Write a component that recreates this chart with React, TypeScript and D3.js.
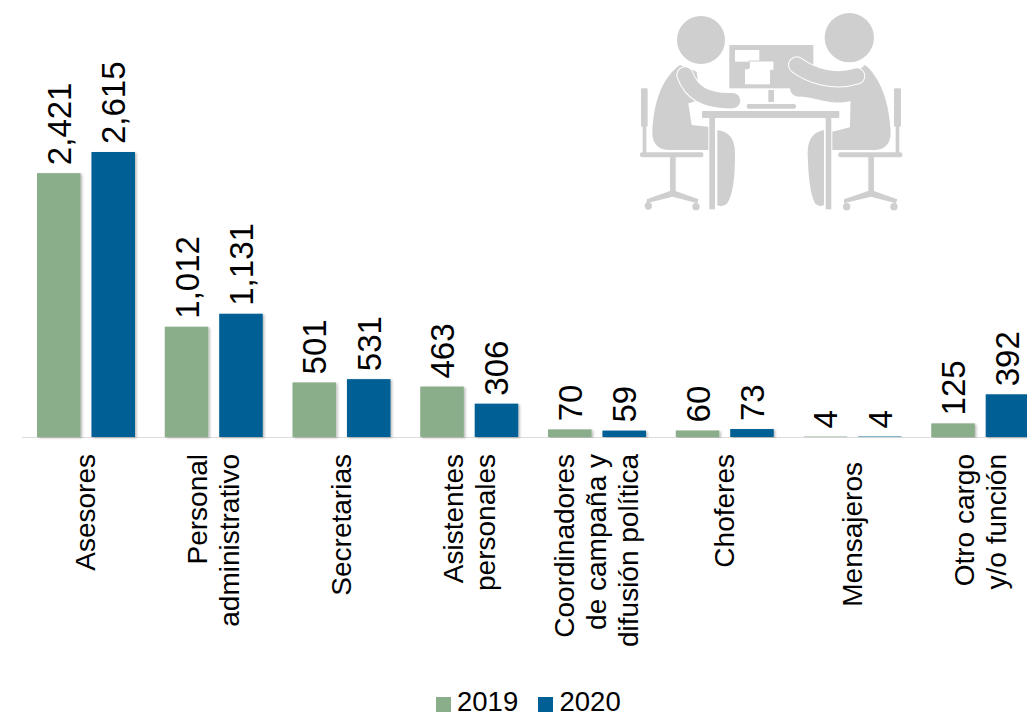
import React from "react";
import * as d3 from "d3";

const categories: string[][] = [
  ["Asesores"],
  ["Personal", "administrativo"],
  ["Secretarias"],
  ["Asistentes", "personales"],
  ["Coordinadores", "de campaña y", "difusión política"],
  ["Choferes"],
  ["Mensajeros"],
  ["Otro cargo", "y/o función"],
];
const values2019 = [2421, 1012, 501, 463, 70, 60, 4, 125];
const values2020 = [2615, 1131, 531, 306, 59, 73, 4, 392];
const seriesNames = ["2019", "2020"];
const colors = ["#8aad8a", "#005f95"];

const FONT = "'Liberation Sans', Arial, sans-serif";

function Icon() {
  const g = "#cfcfcf";
  return (
    <g transform="translate(620,0) scale(0.3333)" fill={g} filter="url(#soft)">
      <circle cx={243} cy={120} r={72} />
      <circle cx={688} cy={113} r={74} />
      {/* monitor */}
      <rect x={328} y={135} width={252} height={130} />
      <rect x={345} y={150} width={73} height={35} fill="#fff" />
      <rect x={388} y={183} width={74} height={28} fill="#fff" stroke={g} strokeWidth={3} />
      <rect x={375} y={208} width={75} height={45} fill="#fff" />
      <rect x={386} y={205} width={64} height={8} fill="#fff" />
      <rect x={445} y={270} width={17} height={36} />
      <rect x={380} y={312} width={148} height={14} rx={6} />
      {/* left chair */}
      <rect x={63} y={265} width={20} height={115} rx={4} />
      <rect x={68} y={375} width={11} height={85} />
      <rect x={60} y={457} width={190} height={15} rx={6} />
      <rect x={150} y={470} width={17} height={110} />
      <path d="M158 570 L80 598 L80 610 L158 590 L232 610 L236 598 Z" />
      <circle cx={85} cy={618} r={11} />
      <circle cx={228} cy={620} r={11} />
      {/* right chair */}
      <rect x={822} y={265} width={21} height={115} rx={4} />
      <rect x={827} y={375} width={11} height={85} />
      <rect x={655} y={457} width={192} height={15} rx={6} />
      <rect x={745} y={470} width={17} height={110} />
      <path d="M753 570 L672 598 L672 610 L753 590 L828 610 L832 598 Z" />
      <circle cx={680} cy={620} r={11} />
      <circle cx={822} cy={620} r={11} />
      {/* left body */}
      <path d="M180 195 C130 230 100 300 97 400 C97 430 115 450 145 450 L265 450 L265 380 L215 375 L205 310 L240 300 L230 215 Z" />
      <path d="M195 225 C215 280 260 305 338 302" fill="none" stroke="#fff" strokeWidth={52} strokeLinecap="round" />
      <path d="M195 225 C215 280 260 305 338 302" fill="none" stroke={g} strokeWidth={46} strokeLinecap="round" />
      <path d="M292 390 C330 395 345 420 345 460 C345 530 340 580 322 610 C312 620 298 620 292 615 Z" />
      {/* right body */}
      <path d="M735 195 C780 230 810 310 812 400 C812 430 795 450 765 450 L637 450 L637 395 L690 382 L692 285 L680 240 Z" />
      <path d="M535 265 C580 262 640 295 690 278" fill="none" stroke={g} strokeWidth={50} strokeLinecap="round" />
      <path d="M530 195 C570 225 640 250 710 228" fill="none" stroke="#fff" strokeWidth={52} strokeLinecap="round" />
      <path d="M530 195 C570 225 640 250 710 228" fill="none" stroke={g} strokeWidth={46} strokeLinecap="round" />
      <path d="M612 390 C580 395 562 420 563 460 C565 530 570 580 585 610 C595 620 605 620 612 615 Z" />
      {/* desk */}
      <rect x={246} y={333} width={412} height={21} rx={3} />
      <rect x={268} y={352} width={17} height={276} />
      <rect x={617} y={352} width={17} height={276} />
    </g>
  );
}

export default function App() {
  const x0 = d3.scaleBand<number>().domain(d3.range(categories.length)).range([22, 1044]);
  const x1 = d3.scaleBand<number>().domain([0, 1]).range([15, 113]).paddingInner(0.2);
  const y = d3.scaleLinear().domain([0, 2615]).range([437, 152]);
  const series = [values2019, values2020];
  return (
    <svg width={1027} height={717} style={{ position: "absolute", left: 0, top: 0, fontFamily: FONT }}>
      <defs>
        <filter id="sh" x="-20%" y="-5%" width="140%" height="110%">
          <feDropShadow dx={1.5} dy={1} stdDeviation={1.2} floodColor="#000" floodOpacity={0.28} />
        </filter>
        <filter id="soft" x="-2%" y="-2%" width="104%" height="104%">
          <feGaussianBlur stdDeviation={1} />
        </filter>
      </defs>
      <Icon />
      <line x1={22} x2={1027} y1={437.5} y2={437.5} stroke="#dcdcdc" strokeWidth={1} />
      {series.map((vals, s) => (
        <g key={s}>
          {vals.map((v, i) => {
            const bx = x0(i)! + x1(s)!;
            const bw = x1.bandwidth();
            const cx = bx + bw / 2;
            return (
              <g key={i}>
                <rect x={bx} y={y(v)} width={bw} height={y(0) - y(v)} fill={colors[s]} filter="url(#sh)" />
                <text
                  transform={`translate(${cx + 12},${y(v) - 8}) rotate(-90)`}
                  fontSize={33}
                  fill="#000"
                >
                  {d3.format(",")(v)}
                </text>
              </g>
            );
          })}
        </g>
      ))}
      {categories.map((lines, i) => {
        const c = x0(i)! + x0.bandwidth() / 2;
        return lines.map((ln, k) => (
          <text
            key={k}
            transform={`translate(${c + (k - (lines.length - 1) / 2) * 32 + 9.5},${ln === "Mensajeros" ? 462 : 454}) rotate(-90)`}
            textAnchor="end"
            fontSize={28}
            fill="#000"
          >
            {ln}
          </text>
        ));
      })}
      {seriesNames.map((n, s) => (
        <g key={n}>
          <rect x={436 + s * 102} y={697} width={15} height={15} fill={colors[s]} />
          <text x={457 + s * 102.5} y={711} fontSize={27.5} fill="#000">{n}</text>
        </g>
      ))}
    </svg>
  );
}
